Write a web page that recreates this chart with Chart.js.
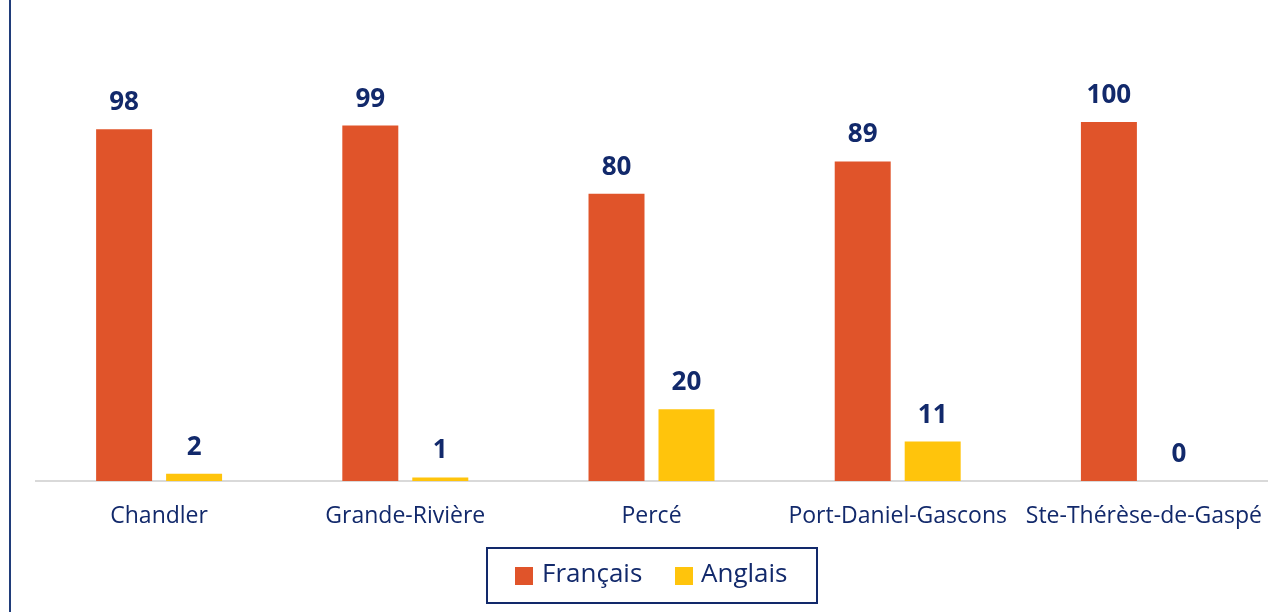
<!DOCTYPE html>
<html>
<head>
<meta charset="utf-8">
<script src="https://cdn.jsdelivr.net/npm/chart.js@4"></script>
<style>
  html, body { margin: 0; padding: 0; background: #fff; }
  #wrap { width: 1287px; height: 612px; position: relative; }
</style>
</head>
<body>
<div id="wrap"><canvas id="myChart" width="1287" height="612"></canvas></div>
<script>
const categories = ['Chandler', 'Grande-Rivière', 'Percé', 'Port-Daniel-Gascons', 'Ste-Thérèse-de-Gaspé'];
const francais = [98, 99, 80, 89, 100];
const anglais = [2, 1, 20, 11, 0];

const navy = '#12296b';
const fontFamily = '"Open Sans", "Noto Sans", sans-serif';

// value labels above bars + left frame line + boxed legend
const extras = {
  id: 'extras',
  afterDatasetsDraw(chart) {
    const ctx = chart.ctx;
    ctx.save();
    ctx.fillStyle = navy;
    ctx.font = 'bold 26px ' + fontFamily;
    ctx.textAlign = 'center';
    ctx.textBaseline = 'alphabetic';
    chart.data.datasets.forEach((ds, i) => {
      chart.getDatasetMeta(i).data.forEach((bar, j) => {
        ctx.fillText(ds.data[j], bar.x, bar.y - 19);
      });
    });
    ctx.restore();
  },
  afterDraw(chart) {
    const ctx = chart.ctx;
    ctx.save();
    // left frame
    ctx.strokeStyle = '#203d7a';
    ctx.lineWidth = 2;
    ctx.beginPath();
    ctx.moveTo(10, 0);
    ctx.lineTo(10, 612);
    ctx.stroke();
    // legend box
    ctx.strokeStyle = navy;
    ctx.lineWidth = 2;
    ctx.strokeRect(487, 548, 330, 55);
    const items = [{ x: 515, tx: 542 }, { x: 675, tx: 701 }];
    ctx.font = '26px ' + fontFamily;
    ctx.textBaseline = 'middle';
    ctx.textAlign = 'left';
    chart.data.datasets.forEach((ds, i) => {
      ctx.fillStyle = ds.backgroundColor;
      ctx.fillRect(items[i].x, 567, 18, 18);
      ctx.fillStyle = navy;
      ctx.fillText(ds.label, items[i].tx, 575);
    });
    ctx.restore();
  }
};

new Chart(document.getElementById('myChart'), {
  type: 'bar',
  data: {
    labels: categories,
    datasets: [
      { label: 'Français', data: francais, backgroundColor: '#e0542a' },
      { label: 'Anglais', data: anglais, backgroundColor: '#ffc40c' }
    ]
  },
  options: {
    responsive: false,
    animation: false,
    categoryPercentage: 0.5685,
    barPercentage: 0.8,
    layout: { padding: { left: 36, right: 20, top: 122, bottom: 0 } },
    plugins: {
      legend: { display: false },
      tooltip: { enabled: false }
    },
    scales: {
      x: {
        grid: { display: false, drawTicks: false },
        border: { color: '#d9d9d9', width: 2 },
        ticks: {
          color: navy,
          font: { family: fontFamily, size: 23 },
          padding: 22
        },
        afterFit(scale) { scale.height = 131; }
      },
      y: {
        display: false,
        min: 0,
        max: 100
      }
    }
  },
  plugins: [extras]
});
</script>
</body>
</html>
